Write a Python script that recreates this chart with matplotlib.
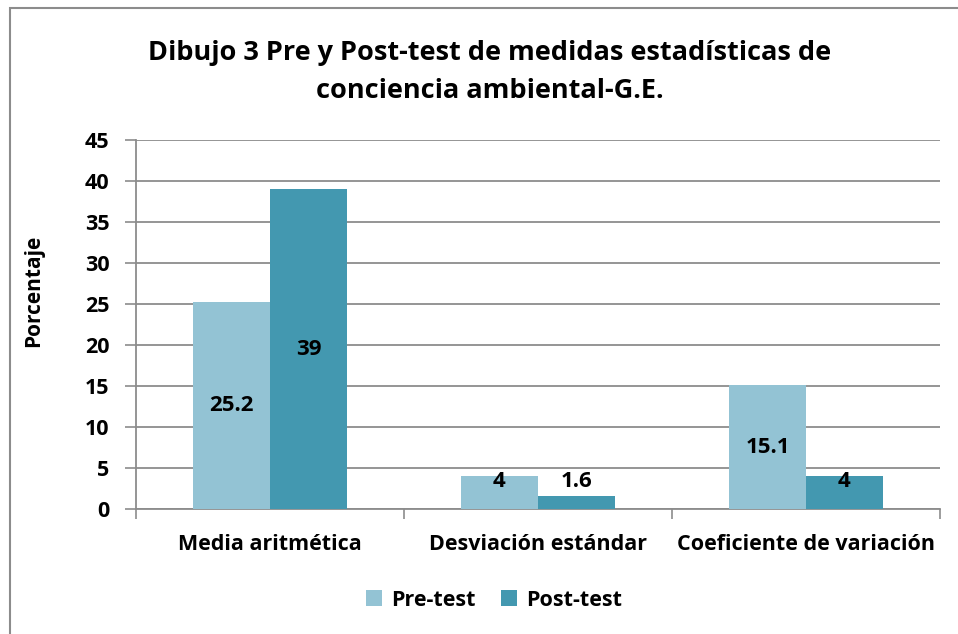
import matplotlib
matplotlib.use("Agg")
import matplotlib.pyplot as plt
import numpy as np
from matplotlib.patches import Rectangle

categories = ["Media aritmética", "Desviación estándar", "Coeficiente de variación"]
pre_test = [25.2, 4, 15.1]
post_test = [39, 1.6, 4]
pre_labels = ["25.2", "4", "15.1"]
post_labels = ["39", "1.6", "4"]
series_names = ["Pre-test", "Post-test"]
yticks = [0, 5, 10, 15, 20, 25, 30, 35, 40, 45]
title = "Dibujo 3 Pre y Post-test de medidas estadísticas de\nconciencia ambiental-G.E."

plt.rcParams['font.family'] = ['Open Sans', 'DejaVu Sans']
plt.rcParams['font.weight'] = 'bold'

W, H = 958, 634
fig = plt.figure(figsize=(W/100, H/100), dpi=100)
ax = fig.add_axes([136/W, 1-509/H, (940-136)/W, (509-140)/H])

c_pre = "#93C3D4"
c_post = "#4398B0"
x = np.arange(len(categories))
bw = 77/268
ax.bar(x - bw/2, pre_test, bw, color=c_pre, label=series_names[0], zorder=3)
ax.bar(x + bw/2, post_test, bw, color=c_post, label=series_names[1], zorder=3)

for i in range(len(categories)):
    for xv, v, lab in ((x[i]-bw/2, pre_test[i], pre_labels[i]), (x[i]+bw/2, post_test[i], post_labels[i])):
        yv = max(v/2, 3.3)
        ax.text(xv, yv, lab, ha="center", va="center", fontsize=16, fontweight="bold", zorder=4)

ax.set_xlim(-0.5, 2.5)
ax.set_ylim(0, 45)
ax.set_yticks(yticks)
ax.set_yticklabels([str(t) for t in yticks], fontsize=15.5, fontweight="bold")
ax.yaxis.grid(True, color="#8c8c8c", linewidth=1.3, zorder=0)
ax.set_axisbelow(True)
ax.set_xticks([-0.5, 0.5, 1.5, 2.5], minor=False)
ax.set_xticklabels([])
ax.set_xticks(x, minor=True)
ax.set_xticklabels(categories, minor=True, fontsize=15.5, fontweight="bold")
ax.tick_params(axis="x", which="minor", length=0, pad=18)
ax.tick_params(axis="x", which="major", length=7, color="#8c8c8c", width=1.2)
ax.tick_params(axis="y", length=8, color="#8c8c8c", width=1.2, pad=11)
for s in ["top", "right"]:
    ax.spines[s].set_visible(False)
for s in ["left", "bottom"]:
    ax.spines[s].set_color("#8c8c8c")
    ax.spines[s].set_linewidth(1.3)

fig.text(34/W, 1-291/H, "Porcentaje", rotation=90, ha="center", va="center",
         fontsize=15, fontweight="bold")

fig.text(490/W, 1-72/H, title, ha="center", va="center", fontsize=19.5,
         fontweight="bold", linespacing=1.58)

leg = fig.legend(loc="center", bbox_to_anchor=(494/W, 1-600/H), ncol=2, frameon=False,
                 handlelength=0.75, handleheight=0.75, columnspacing=1.2,
                 handletextpad=0.4, prop={"weight": "bold", "size": 15.5})

fig.add_artist(Rectangle((10/W, -0.1), 1.2, 1-8/H+0.1, transform=fig.transFigure,
                         fill=False, edgecolor="#8c8c8c", linewidth=1.5))

fig.savefig("out.png", dpi=100)
